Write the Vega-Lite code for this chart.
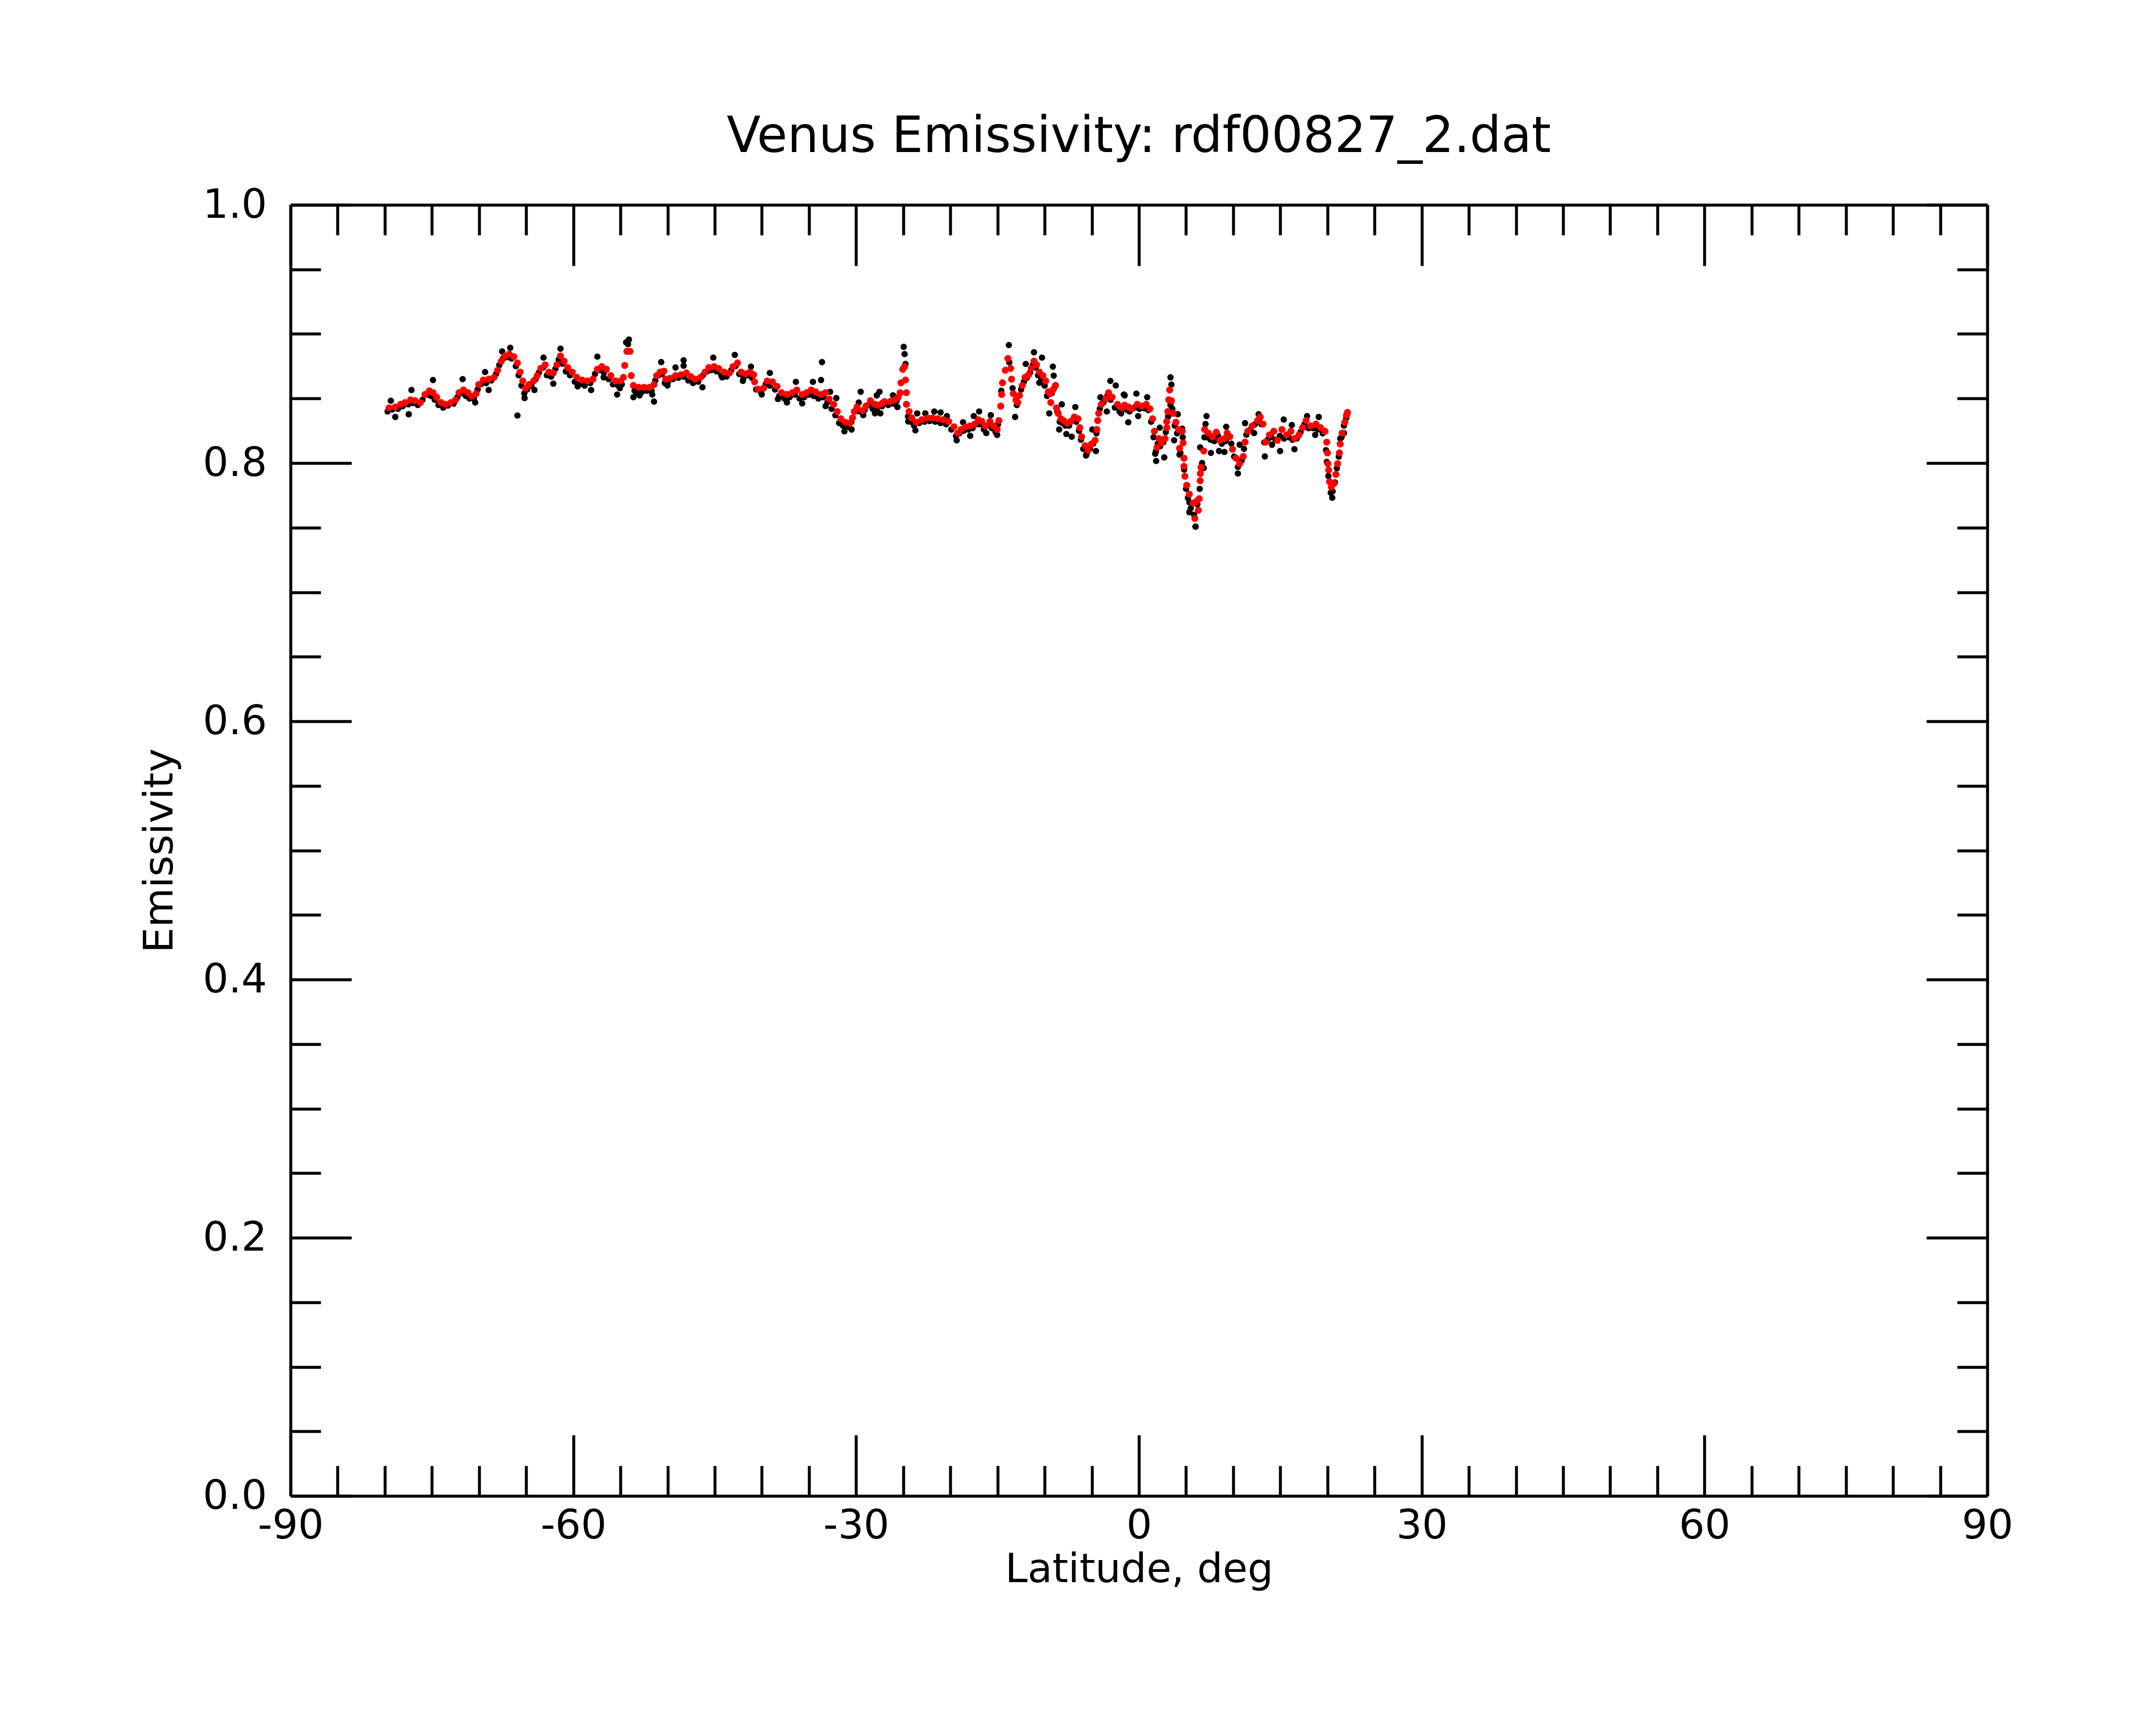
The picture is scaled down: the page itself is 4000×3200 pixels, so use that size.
{
  "$schema": "https://vega.github.io/schema/vega-lite/v6.json",
  "description": "Venus emissivity against latitude, raw samples and smoothed trace",
  "width": 3148,
  "height": 2395,
  "autosize": {"type": "none"},
  "padding": {"left": 539, "top": 380, "right": 313, "bottom": 425},
  "background": "white",
  "title": {
    "text": "Venus Emissivity: rdf00827_2.dat",
    "font": "DejaVu Sans",
    "fontSize": 92,
    "fontWeight": "normal",
    "color": "black",
    "anchor": "middle",
    "offset": 42
  },
  "datasets": {
    "raw": [
      {"lat":-79.7,"emis":0.84},{"lat":-79.2,"emis":0.8415},{"lat":-78.6,"emis":0.842},{"lat":-78.1,"emis":0.844},
      {"lat":-77.5,"emis":0.8455},{"lat":-77.0,"emis":0.8465},{"lat":-76.5,"emis":0.845},{"lat":-76.0,"emis":0.849},
      {"lat":-75.5,"emis":0.853},{"lat":-75.1,"emis":0.852},{"lat":-74.7,"emis":0.849},{"lat":-74.3,"emis":0.845},
      {"lat":-73.8,"emis":0.843},{"lat":-73.3,"emis":0.8445},{"lat":-72.7,"emis":0.846},{"lat":-72.3,"emis":0.851},
      {"lat":-71.9,"emis":0.854},{"lat":-71.4,"emis":0.852},{"lat":-71.0,"emis":0.85},{"lat":-70.55,"emis":0.85},
      {"lat":-70.15,"emis":0.857},{"lat":-69.8,"emis":0.861},{"lat":-69.25,"emis":0.862},{"lat":-68.7,"emis":0.864},
      {"lat":-68.2,"emis":0.869},{"lat":-67.85,"emis":0.876},{"lat":-67.45,"emis":0.881},{"lat":-67.0,"emis":0.882},
      {"lat":-66.55,"emis":0.881},{"lat":-66.1,"emis":0.875},{"lat":-65.8,"emis":0.868},{"lat":-65.5,"emis":0.86},
      {"lat":-65.2,"emis":0.854},{"lat":-64.9,"emis":0.857},{"lat":-64.45,"emis":0.86},{"lat":-64.0,"emis":0.865},
      {"lat":-63.65,"emis":0.87},{"lat":-63.2,"emis":0.874},{"lat":-62.8,"emis":0.868},{"lat":-62.35,"emis":0.867},
      {"lat":-61.9,"emis":0.873},{"lat":-61.55,"emis":0.88},{"lat":-61.15,"emis":0.877},{"lat":-60.8,"emis":0.871},
      {"lat":-60.35,"emis":0.868},{"lat":-59.85,"emis":0.863},{"lat":-59.35,"emis":0.861},{"lat":-58.8,"emis":0.86},
      {"lat":-58.2,"emis":0.862},{"lat":-57.7,"emis":0.869},{"lat":-57.2,"emis":0.872},{"lat":-56.75,"emis":0.87},
      {"lat":-56.25,"emis":0.865},{"lat":-55.8,"emis":0.861},{"lat":-55.25,"emis":0.86},{"lat":-54.85,"emis":0.861},
      {"lat":-54.4,"emis":0.8935},{"lat":-54.1,"emis":0.8956},{"lat":-54.2,"emis":0.892},
      {"lat":-53.5,"emis":0.856},{"lat":-53.3,"emis":0.854},{"lat":-52.75,"emis":0.855},{"lat":-52.2,"emis":0.856},
      {"lat":-51.7,"emis":0.856},{"lat":-51.3,"emis":0.864},{"lat":-50.95,"emis":0.868},{"lat":-50.6,"emis":0.869},
      {"lat":-50.3,"emis":0.862},{"lat":-49.95,"emis":0.863},{"lat":-49.45,"emis":0.865},{"lat":-48.85,"emis":0.866},
      {"lat":-48.3,"emis":0.867},{"lat":-47.8,"emis":0.864},{"lat":-47.3,"emis":0.862},{"lat":-46.75,"emis":0.863},
      {"lat":-46.25,"emis":0.868},{"lat":-45.8,"emis":0.871},{"lat":-45.35,"emis":0.872},{"lat":-44.8,"emis":0.871},
      {"lat":-44.3,"emis":0.868},{"lat":-43.75,"emis":0.867},{"lat":-43.25,"emis":0.872},{"lat":-42.8,"emis":0.875},
      {"lat":-42.4,"emis":0.869},{"lat":-41.95,"emis":0.866},{"lat":-41.5,"emis":0.868},{"lat":-41.05,"emis":0.866},
      {"lat":-40.6,"emis":0.857},{"lat":-40.1,"emis":0.855},{"lat":-39.6,"emis":0.861},{"lat":-39.15,"emis":0.86},
      {"lat":-38.6,"emis":0.857},{"lat":-38.15,"emis":0.852},{"lat":-37.6,"emis":0.85},{"lat":-37.05,"emis":0.851},
      {"lat":-36.5,"emis":0.853},{"lat":-36.0,"emis":0.85},{"lat":-35.5,"emis":0.851},{"lat":-35.0,"emis":0.853},
      {"lat":-34.5,"emis":0.852},{"lat":-34.0,"emis":0.85},{"lat":-33.5,"emis":0.851},{"lat":-33.05,"emis":0.847},
      {"lat":-32.6,"emis":0.842},{"lat":-32.2,"emis":0.837},{"lat":-31.8,"emis":0.831},{"lat":-31.4,"emis":0.829},
      {"lat":-30.9,"emis":0.828},{"lat":-30.5,"emis":0.832},{"lat":-30.05,"emis":0.84},{"lat":-29.6,"emis":0.84},
      {"lat":-29.1,"emis":0.841},{"lat":-28.7,"emis":0.845},{"lat":-28.25,"emis":0.842},{"lat":-27.8,"emis":0.842},
      {"lat":-27.25,"emis":0.844},{"lat":-26.6,"emis":0.845},{"lat":-26.1,"emis":0.846},{"lat":-25.7,"emis":0.848},
      {"lat":-24.95,"emis":0.89},{"lat":-24.86,"emis":0.8844},{"lat":-24.76,"emis":0.8768},
      {"lat":-24.5,"emis":0.836},{"lat":-24.2,"emis":0.832},{"lat":-23.85,"emis":0.829},{"lat":-23.3,"emis":0.831},
      {"lat":-22.75,"emis":0.832},{"lat":-22.2,"emis":0.8325},{"lat":-21.6,"emis":0.832},{"lat":-21.05,"emis":0.831},
      {"lat":-20.45,"emis":0.83},{"lat":-19.9,"emis":0.826},{"lat":-19.4,"emis":0.821},{"lat":-19.05,"emis":0.823},
      {"lat":-18.6,"emis":0.825},{"lat":-18.1,"emis":0.826},{"lat":-17.65,"emis":0.827},{"lat":-17.2,"emis":0.83},
      {"lat":-16.85,"emis":0.83},{"lat":-16.45,"emis":0.826},{"lat":-16.05,"emis":0.829},{"lat":-15.6,"emis":0.827},
      {"lat":-15.2,"emis":0.824},{"lat":-14.95,"emis":0.83},{"lat":-14.6,"emis":0.856},{"lat":-13.8,"emis":0.8914},
      {"lat":-13.75,"emis":0.878},{"lat":-13.4,"emis":0.858},{"lat":-12.95,"emis":0.845},{"lat":-12.5,"emis":0.857},
      {"lat":-12.2,"emis":0.863},{"lat":-11.9,"emis":0.866},{"lat":-11.55,"emis":0.87},{"lat":-11.25,"emis":0.876},
      {"lat":-10.95,"emis":0.874},{"lat":-10.7,"emis":0.868},{"lat":-10.35,"emis":0.865},{"lat":-10.0,"emis":0.86},
      {"lat":-9.75,"emis":0.852},{"lat":-9.25,"emis":0.854},{"lat":-9.0,"emis":0.858},{"lat":-8.65,"emis":0.84},
      {"lat":-8.4,"emis":0.832},{"lat":-8.1,"emis":0.831},{"lat":-7.8,"emis":0.829},{"lat":-7.4,"emis":0.829},
      {"lat":-7.05,"emis":0.833},{"lat":-6.65,"emis":0.832},{"lat":-6.35,"emis":0.825},{"lat":-6.15,"emis":0.818},
      {"lat":-5.9,"emis":0.811},{"lat":-5.55,"emis":0.807},{"lat":-5.2,"emis":0.811},{"lat":-4.85,"emis":0.815},
      {"lat":-4.5,"emis":0.823},{"lat":-4.15,"emis":0.842},{"lat":-3.75,"emis":0.847},{"lat":-3.35,"emis":0.852},
      {"lat":-3.0,"emis":0.849},{"lat":-2.55,"emis":0.843},{"lat":-2.05,"emis":0.84},{"lat":-1.65,"emis":0.842},
      {"lat":-1.2,"emis":0.841},{"lat":-1.0,"emis":0.84},{"lat":-0.45,"emis":0.843},{"lat":0.05,"emis":0.842},
      {"lat":0.55,"emis":0.8425},{"lat":1.0,"emis":0.841},{"lat":1.3,"emis":0.832},{"lat":1.55,"emis":0.82},
      {"lat":1.8,"emis":0.809},{"lat":2.0,"emis":0.815},{"lat":2.25,"emis":0.813},{"lat":2.6,"emis":0.816},
      {"lat":2.85,"emis":0.824},{"lat":3.1,"emis":0.836},{"lat":3.35,"emis":0.845},{"lat":3.55,"emis":0.842},
      {"lat":3.8,"emis":0.829},{"lat":4.05,"emis":0.823},{"lat":4.4,"emis":0.808},{"lat":4.65,"emis":0.82},
      {"lat":4.8,"emis":0.795},{"lat":5.0,"emis":0.78},{"lat":5.2,"emis":0.773},{"lat":5.5,"emis":0.765},
      {"lat":5.85,"emis":0.76},{"lat":6.0,"emis":0.7508},{"lat":6.2,"emis":0.768},{"lat":6.45,"emis":0.78},
      {"lat":6.7,"emis":0.8},{"lat":6.95,"emis":0.82},{"lat":7.2,"emis":0.82},{"lat":7.6,"emis":0.818},
      {"lat":8.0,"emis":0.817},{"lat":8.4,"emis":0.821},{"lat":8.8,"emis":0.815},{"lat":9.2,"emis":0.817},
      {"lat":9.5,"emis":0.82},{"lat":9.8,"emis":0.815},{"lat":10.1,"emis":0.805},{"lat":10.5,"emis":0.797},
      {"lat":10.9,"emis":0.802},{"lat":11.15,"emis":0.811},{"lat":11.4,"emis":0.822},{"lat":11.8,"emis":0.826},
      {"lat":12.3,"emis":0.83},{"lat":12.75,"emis":0.834},{"lat":13.0,"emis":0.83},{"lat":13.3,"emis":0.816},
      {"lat":13.65,"emis":0.818},{"lat":14.05,"emis":0.82},{"lat":14.5,"emis":0.818},{"lat":14.95,"emis":0.821},
      {"lat":15.4,"emis":0.819},{"lat":15.9,"emis":0.82},{"lat":16.3,"emis":0.818},{"lat":16.75,"emis":0.819},
      {"lat":17.15,"emis":0.824},{"lat":17.55,"emis":0.83},{"lat":18.0,"emis":0.827},{"lat":18.5,"emis":0.827},
      {"lat":19.0,"emis":0.826},{"lat":19.5,"emis":0.823},{"lat":19.85,"emis":0.81},{"lat":20.1,"emis":0.79},
      {"lat":20.35,"emis":0.777},{"lat":20.55,"emis":0.778},{"lat":20.8,"emis":0.785},{"lat":21.0,"emis":0.796},
      {"lat":21.2,"emis":0.805},{"lat":21.5,"emis":0.82},{"lat":21.75,"emis":0.829},{"lat":22.0,"emis":0.835},
      {"lat":-65.93,"emis":0.8368},{"lat":-74.89,"emis":0.8643},{"lat":-71.74,"emis":0.865},{"lat":-77.17,"emis":0.8566},
      {"lat":-77.46,"emis":0.8378},{"lat":-78.89,"emis":0.8357},{"lat":-79.36,"emis":0.8483},{"lat":-70.41,"emis":0.8469},
      {"lat":-68.98,"emis":0.8566},{"lat":-69.36,"emis":0.8705},{"lat":-65.17,"emis":0.8503},{"lat":-64.12,"emis":0.8566},
      {"lat":-63.16,"emis":0.8817},{"lat":-62.12,"emis":0.8615},{"lat":-61.36,"emis":0.8886},{"lat":-58.11,"emis":0.8566},
      {"lat":-57.45,"emis":0.8824},{"lat":-55.35,"emis":0.8531},{"lat":-55.06,"emis":0.858},{"lat":-56.78,"emis":0.8664},
      {"lat":-59.54,"emis":0.8594},{"lat":-66.69,"emis":0.8893},{"lat":-67.55,"emis":0.8865},
      {"lat":-53.63,"emis":0.851},{"lat":-52.97,"emis":0.8524},{"lat":-51.44,"emis":0.8476},{"lat":-51.63,"emis":0.8531},
      {"lat":-50.68,"emis":0.8782},{"lat":-50.01,"emis":0.8601},{"lat":-49.16,"emis":0.874},{"lat":-48.3,"emis":0.8796},
      {"lat":-48.3,"emis":0.8754},{"lat":-46.3,"emis":0.8587},{"lat":-45.15,"emis":0.8817},{"lat":-44.2,"emis":0.8664},
      {"lat":-42.87,"emis":0.8838},{"lat":-42.01,"emis":0.8636},{"lat":-41.15,"emis":0.8747},{"lat":-40.01,"emis":0.8531},
      {"lat":-39.15,"emis":0.8698},{"lat":-38.29,"emis":0.8496},{"lat":-37.34,"emis":0.8469},{"lat":-36.39,"emis":0.8629},
      {"lat":-35.72,"emis":0.8462},{"lat":-34.58,"emis":0.8629},{"lat":-33.62,"emis":0.8782},{"lat":-33.72,"emis":0.8643},
      {"lat":-33.24,"emis":0.8441},{"lat":-32.76,"emis":0.8552},{"lat":-32.1,"emis":0.8503},{"lat":-31.24,"emis":0.8246},
      {"lat":-30.48,"emis":0.826},{"lat":-29.52,"emis":0.8552},{"lat":-29.72,"emis":0.8469},{"lat":-29.24,"emis":0.8371},
      {"lat":-28.0,"emis":0.8385},{"lat":-27.81,"emis":0.8524},{"lat":-27.52,"emis":0.8552},{"lat":-27.43,"emis":0.8385},
      {"lat":-26.09,"emis":0.8524},{"lat":-25.62,"emis":0.8434},{"lat":-24.47,"emis":0.8322},{"lat":-23.71,"emis":0.8253},
      {"lat":-23.52,"emis":0.8385},{"lat":-22.66,"emis":0.8385},{"lat":-21.71,"emis":0.8399},{"lat":-21.04,"emis":0.8392},
      {"lat":-20.37,"emis":0.8364},{"lat":-19.33,"emis":0.8176},{"lat":-18.66,"emis":0.8316},{"lat":-17.9,"emis":0.8211},
      {"lat":-17.52,"emis":0.8364},{"lat":-16.95,"emis":0.8399},{"lat":-16.19,"emis":0.8232},{"lat":-15.71,"emis":0.8371},
      {"lat":-15.04,"emis":0.8218},{"lat":-13.13,"emis":0.8357},{"lat":-12.0,"emis":0.8768},{"lat":-11.13,"emis":0.8858},
      {"lat":-10.28,"emis":0.8817},{"lat":-9.13,"emis":0.8747},{"lat":-9.04,"emis":0.8677},{"lat":-10.56,"emis":0.8622},
      {"lat":-9.51,"emis":0.8385},{"lat":-8.18,"emis":0.8455},{"lat":-8.46,"emis":0.826},{"lat":-7.7,"emis":0.8225},
      {"lat":-7.13,"emis":0.8204},{"lat":-6.75,"emis":0.8434},{"lat":-5.61,"emis":0.8058},{"lat":-4.94,"emis":0.826},
      {"lat":-4.56,"emis":0.8093},{"lat":-4.08,"emis":0.851},{"lat":-3.03,"emis":0.8636},{"lat":-2.46,"emis":0.8601},
      {"lat":-3.41,"emis":0.8399},{"lat":-1.6,"emis":0.8531},{"lat":-1.89,"emis":0.8385},
      {"lat":-1.51,"emis":0.8524},{"lat":-1.13,"emis":0.8316},{"lat":-0.27,"emis":0.8538},{"lat":0.88,"emis":0.851},
      {"lat":-0.08,"emis":0.8364},{"lat":1.73,"emis":0.8072},{"lat":1.83,"emis":0.8016},{"lat":2.69,"emis":0.8044},
      {"lat":2.21,"emis":0.8274},{"lat":3.35,"emis":0.8664},{"lat":3.45,"emis":0.8608},{"lat":4.12,"emis":0.8378},
      {"lat":3.74,"emis":0.8176},{"lat":4.31,"emis":0.8065},{"lat":4.59,"emis":0.8267},{"lat":5.35,"emis":0.762},
      {"lat":5.35,"emis":0.7696},{"lat":6.02,"emis":0.7508},{"lat":6.5,"emis":0.8121},{"lat":6.88,"emis":0.7961},
      {"lat":7.17,"emis":0.8364},{"lat":7.07,"emis":0.8302},{"lat":7.64,"emis":0.8079},{"lat":8.5,"emis":0.8093},
      {"lat":9.26,"emis":0.8281},{"lat":9.07,"emis":0.8086},{"lat":10.5,"emis":0.7919},{"lat":10.69,"emis":0.8142},
      {"lat":11.26,"emis":0.8309},{"lat":12.22,"emis":0.8232},{"lat":12.7,"emis":0.8378},{"lat":13.36,"emis":0.8051},
      {"lat":14.12,"emis":0.8142},{"lat":14.98,"emis":0.8093},{"lat":15.36,"emis":0.8337},{"lat":16.22,"emis":0.8295},
      {"lat":16.5,"emis":0.8107},{"lat":17.84,"emis":0.8364},{"lat":18.7,"emis":0.8218},{"lat":19.08,"emis":0.8357},
      {"lat":20.51,"emis":0.7731},{"lat":19.93,"emis":0.8009},{"lat":21.36,"emis":0.819},{"lat":21.75,"emis":0.8232}
    ],
    "smooth": [
      {"lat":-79.55,"emis":0.8427},{"lat":-78.89,"emis":0.8434},{"lat":-78.32,"emis":0.8455},{"lat":-77.84,"emis":0.8469},
      {"lat":-77.27,"emis":0.8489},{"lat":-76.79,"emis":0.8483},{"lat":-76.22,"emis":0.8469},{"lat":-75.74,"emis":0.8531},
      {"lat":-75.27,"emis":0.8559},{"lat":-74.89,"emis":0.8545},{"lat":-74.5,"emis":0.851},{"lat":-74.03,"emis":0.8469},
      {"lat":-73.55,"emis":0.8455},{"lat":-72.98,"emis":0.8469},{"lat":-72.5,"emis":0.8489},{"lat":-72.12,"emis":0.8545},
      {"lat":-71.65,"emis":0.8566},{"lat":-71.17,"emis":0.8545},{"lat":-70.79,"emis":0.8517},{"lat":-70.31,"emis":0.8538},
      {"lat":-70.03,"emis":0.8608},{"lat":-69.55,"emis":0.8643},{"lat":-68.98,"emis":0.865},{"lat":-68.41,"emis":0.8664},
      {"lat":-68.03,"emis":0.8719},{"lat":-67.64,"emis":0.8789},{"lat":-67.26,"emis":0.883},{"lat":-66.79,"emis":0.8844},
      {"lat":-66.31,"emis":0.8824},{"lat":-65.93,"emis":0.8775},{"lat":-65.64,"emis":0.8705},{"lat":-65.36,"emis":0.8636},
      {"lat":-65.07,"emis":0.858},{"lat":-64.69,"emis":0.8608},{"lat":-64.21,"emis":0.8636},{"lat":-63.83,"emis":0.8677},
      {"lat":-63.45,"emis":0.8733},{"lat":-62.98,"emis":0.8761},{"lat":-62.59,"emis":0.8705},{"lat":-62.12,"emis":0.8698},
      {"lat":-61.74,"emis":0.8761},{"lat":-61.36,"emis":0.883},{"lat":-60.97,"emis":0.8789},{"lat":-60.59,"emis":0.874},
      {"lat":-60.11,"emis":0.8705},{"lat":-59.64,"emis":0.8664},{"lat":-59.07,"emis":0.8643},{"lat":-58.49,"emis":0.8636},
      {"lat":-57.92,"emis":0.865},{"lat":-57.45,"emis":0.8726},{"lat":-56.97,"emis":0.8747},{"lat":-56.49,"emis":0.8726},
      {"lat":-56.02,"emis":0.8677},{"lat":-55.54,"emis":0.8636},{"lat":-54.97,"emis":0.8636},{"lat":-54.68,"emis":0.8664},
      {"lat":-54.55,"emis":0.8756},{"lat":-54.32,"emis":0.8865},{"lat":-53.98,"emis":0.8865},{"lat":-53.85,"emis":0.8677},
      {"lat":-53.63,"emis":0.8601},{"lat":-53.06,"emis":0.8587},{"lat":-52.49,"emis":0.8587},{"lat":-51.92,"emis":0.8587},
      {"lat":-51.44,"emis":0.8608},{"lat":-51.16,"emis":0.8677},{"lat":-50.78,"emis":0.8705},{"lat":-50.39,"emis":0.8712},
      {"lat":-50.2,"emis":0.865},{"lat":-49.73,"emis":0.8657},{"lat":-49.16,"emis":0.8677},{"lat":-48.58,"emis":0.8684},
      {"lat":-48.01,"emis":0.8698},{"lat":-47.54,"emis":0.867},{"lat":-47.06,"emis":0.865},{"lat":-46.49,"emis":0.8664},
      {"lat":-46.01,"emis":0.8705},{"lat":-45.63,"emis":0.874},{"lat":-45.06,"emis":0.8747},{"lat":-44.58,"emis":0.8733},
      {"lat":-44.01,"emis":0.8705},{"lat":-43.44,"emis":0.8698},{"lat":-43.06,"emis":0.8747},{"lat":-42.58,"emis":0.8775},
      {"lat":-42.2,"emis":0.8705},{"lat":-41.72,"emis":0.8691},{"lat":-41.25,"emis":0.8705},{"lat":-40.87,"emis":0.8684},
      {"lat":-40.77,"emis":0.8629},{"lat":-40.39,"emis":0.8573},{"lat":-39.82,"emis":0.858},{"lat":-39.43,"emis":0.8636},
      {"lat":-38.87,"emis":0.8629},{"lat":-38.39,"emis":0.8594},{"lat":-37.91,"emis":0.8545},{"lat":-37.34,"emis":0.8531},
      {"lat":-36.77,"emis":0.8545},{"lat":-36.29,"emis":0.8566},{"lat":-35.72,"emis":0.8531},{"lat":-35.24,"emis":0.8545},
      {"lat":-34.77,"emis":0.8566},{"lat":-34.29,"emis":0.8552},{"lat":-33.72,"emis":0.8531},{"lat":-33.24,"emis":0.8545},
      {"lat":-32.86,"emis":0.8496},{"lat":-32.38,"emis":0.8455},{"lat":-32.0,"emis":0.8399},{"lat":-31.62,"emis":0.8343},
      {"lat":-31.14,"emis":0.8316},{"lat":-30.67,"emis":0.8309},{"lat":-30.38,"emis":0.835},{"lat":-30.19,"emis":0.8399},
      {"lat":-29.9,"emis":0.8434},{"lat":-29.33,"emis":0.8406},{"lat":-28.95,"emis":0.8441},{"lat":-28.48,"emis":0.8483},
      {"lat":-28.0,"emis":0.8455},{"lat":-27.62,"emis":0.8448},{"lat":-27.24,"emis":0.8462},{"lat":-27.0,"emis":0.8476},
      {"lat":-26.38,"emis":0.8476},{"lat":-25.91,"emis":0.8489},{"lat":-25.53,"emis":0.851},{"lat":-25.33,"emis":0.8545},
      {"lat":-25.24,"emis":0.8622},{"lat":-25.05,"emis":0.8726},{"lat":-24.86,"emis":0.8747},{"lat":-24.76,"emis":0.8643},
      {"lat":-24.66,"emis":0.8545},{"lat":-24.66,"emis":0.8455},{"lat":-24.38,"emis":0.8399},{"lat":-24.09,"emis":0.835},
      {"lat":-23.62,"emis":0.8316},{"lat":-23.04,"emis":0.8336},{"lat":-22.47,"emis":0.835},{"lat":-21.9,"emis":0.835},
      {"lat":-21.33,"emis":0.8343},{"lat":-20.76,"emis":0.8336},{"lat":-20.18,"emis":0.8322},{"lat":-19.61,"emis":0.8281},
      {"lat":-19.23,"emis":0.8232},{"lat":-18.85,"emis":0.826},{"lat":-18.37,"emis":0.8281},{"lat":-17.9,"emis":0.8288},
      {"lat":-17.42,"emis":0.8302},{"lat":-17.04,"emis":0.8336},{"lat":-16.66,"emis":0.8322},{"lat":-16.28,"emis":0.8288},
      {"lat":-15.8,"emis":0.8322},{"lat":-15.42,"emis":0.8288},{"lat":-15.04,"emis":0.826},{"lat":-14.85,"emis":0.8329},
      {"lat":-14.66,"emis":0.8441},{"lat":-14.56,"emis":0.8531},{"lat":-14.47,"emis":0.8622},{"lat":-14.18,"emis":0.8719},
      {"lat":-13.9,"emis":0.881},{"lat":-13.61,"emis":0.8733},{"lat":-13.51,"emis":0.865},{"lat":-13.32,"emis":0.8538},
      {"lat":-13.04,"emis":0.8489},{"lat":-12.85,"emis":0.8469},{"lat":-12.66,"emis":0.8524},{"lat":-12.37,"emis":0.8601},
      {"lat":-12.08,"emis":0.8664},{"lat":-11.7,"emis":0.8684},{"lat":-11.42,"emis":0.8733},{"lat":-11.13,"emis":0.8789},
      {"lat":-10.85,"emis":0.8761},{"lat":-10.56,"emis":0.8705},{"lat":-10.18,"emis":0.8677},{"lat":-9.89,"emis":0.8636},
      {"lat":-9.61,"emis":0.8552},{"lat":-9.42,"emis":0.8538},{"lat":-9.13,"emis":0.8566},{"lat":-8.85,"emis":0.8601},
      {"lat":-9.35,"emis":0.8469},{"lat":-8.75,"emis":0.8427},{"lat":-8.56,"emis":0.8385},{"lat":-8.27,"emis":0.8343},
      {"lat":-7.99,"emis":0.8329},{"lat":-7.61,"emis":0.8309},{"lat":-7.23,"emis":0.8322},{"lat":-6.85,"emis":0.8357},
      {"lat":-6.46,"emis":0.8343},{"lat":-6.27,"emis":0.8274},{"lat":-6.08,"emis":0.8204},{"lat":-5.7,"emis":0.8135},
      {"lat":-5.41,"emis":0.81},{"lat":-5.03,"emis":0.8148},{"lat":-4.65,"emis":0.8176},{"lat":-4.46,"emis":0.826},
      {"lat":-4.37,"emis":0.8329},{"lat":-4.27,"emis":0.8385},{"lat":-3.99,"emis":0.8455},{"lat":-3.51,"emis":0.8497},
      {"lat":-3.22,"emis":0.8545},{"lat":-2.84,"emis":0.851},{"lat":-2.27,"emis":0.8455},{"lat":-1.79,"emis":0.8427},
      {"lat":-1.51,"emis":0.8448},{"lat":-1.1,"emis":0.8434},{"lat":-0.74,"emis":0.842},{"lat":-0.17,"emis":0.8455},
      {"lat":0.3,"emis":0.8441},{"lat":0.78,"emis":0.8455},{"lat":1.16,"emis":0.842},{"lat":1.45,"emis":0.8343},
      {"lat":1.64,"emis":0.8246},{"lat":1.92,"emis":0.8121},{"lat":2.11,"emis":0.819},{"lat":2.4,"emis":0.8156},
      {"lat":2.78,"emis":0.819},{"lat":2.97,"emis":0.8274},{"lat":2.95,"emis":0.8322},{"lat":3.07,"emis":0.8399},
      {"lat":3.16,"emis":0.849},{"lat":3.26,"emis":0.8566},{"lat":3.45,"emis":0.8483},{"lat":3.64,"emis":0.8385},
      {"lat":3.93,"emis":0.8316},{"lat":4.21,"emis":0.826},{"lat":4.59,"emis":0.8246},{"lat":4.31,"emis":0.8114},
      {"lat":4.69,"emis":0.8156},{"lat":4.78,"emis":0.8037},{"lat":4.78,"emis":0.7975},{"lat":4.88,"emis":0.7898},
      {"lat":5.07,"emis":0.7828},{"lat":5.35,"emis":0.7759},{"lat":5.74,"emis":0.7689},{"lat":5.93,"emis":0.7571},
      {"lat":6.12,"emis":0.7703},{"lat":6.31,"emis":0.7634},{"lat":6.4,"emis":0.7724},{"lat":6.5,"emis":0.7863},
      {"lat":6.52,"emis":0.7919},{"lat":6.59,"emis":0.7967},{"lat":6.88,"emis":0.8093},{"lat":6.97,"emis":0.826},
      {"lat":7.36,"emis":0.8232},{"lat":7.83,"emis":0.8204},{"lat":8.21,"emis":0.8239},{"lat":8.59,"emis":0.8176},
      {"lat":9.07,"emis":0.819},{"lat":9.36,"emis":0.8232},{"lat":9.64,"emis":0.8204},{"lat":9.93,"emis":0.8107},
      {"lat":10.31,"emis":0.8037},{"lat":10.69,"emis":0.7995},{"lat":11.07,"emis":0.8051},{"lat":11.26,"emis":0.8162},
      {"lat":11.55,"emis":0.8246},{"lat":12.03,"emis":0.8288},{"lat":12.6,"emis":0.833},{"lat":12.88,"emis":0.8357},
      {"lat":13.17,"emis":0.8302},{"lat":13.46,"emis":0.8162},{"lat":13.84,"emis":0.8218},{"lat":14.31,"emis":0.8246},
      {"lat":14.69,"emis":0.8176},{"lat":15.17,"emis":0.826},{"lat":15.65,"emis":0.8218},{"lat":16.12,"emis":0.8246},
      {"lat":16.5,"emis":0.819},{"lat":16.98,"emis":0.8218},{"lat":17.36,"emis":0.8274},{"lat":17.74,"emis":0.833},
      {"lat":18.22,"emis":0.8288},{"lat":18.79,"emis":0.8302},{"lat":19.27,"emis":0.8274},{"lat":19.74,"emis":0.8246},
      {"lat":19.93,"emis":0.8162},{"lat":20.0,"emis":0.8079},{"lat":20.05,"emis":0.7995},{"lat":20.13,"emis":0.7946},
      {"lat":20.22,"emis":0.7856},{"lat":20.41,"emis":0.7814},{"lat":20.7,"emis":0.7842},{"lat":20.89,"emis":0.7912},
      {"lat":21.08,"emis":0.7995},{"lat":21.27,"emis":0.8079},{"lat":21.36,"emis":0.8148},{"lat":21.56,"emis":0.8232},
      {"lat":21.84,"emis":0.8316},{"lat":22.03,"emis":0.8371},{"lat":22.13,"emis":0.8392}
    ]
  },
  "resolve": {"axis": {"x": "independent", "y": "independent"}},
  "layer": [
    {
      "data": {"name": "raw"},
      "mark": {"type": "circle", "size": 140, "color": "black", "opacity": 1},
      "encoding": {
        "x": {
          "field": "lat",
          "type": "quantitative",
          "scale": {"domain": [-90, 90], "nice": false, "zero": false},
          "axis": {
            "orient": "bottom",
            "title": "Latitude, deg",
            "titlePadding": -50,
            "values": [-90,-85,-80,-75,-70,-65,-60,-55,-50,-45,-40,-35,-30,-25,-20,-15,-10,-5,0,5,10,15,20,25,30,35,40,45,50,55,60,65,70,75,80,85,90],
            "tickSize": {"condition": {"test": "datum.value % 30 === 0", "value": -113}, "value": -56},
            "labelExpr": "datum.value % 30 === 0 ? toString(datum.value) : ''",
            "labelPadding": 132
          }
        },
        "y": {
          "field": "emis",
          "type": "quantitative",
          "scale": {"domain": [0, 1], "nice": false, "zero": false},
          "axis": {
            "orient": "left",
            "title": "Emissivity",
            "titlePadding": 40,
            "values": [0,0.05,0.1,0.15,0.2,0.25,0.3,0.35,0.4,0.45,0.5,0.55,0.6,0.65,0.7,0.75,0.8,0.85,0.9,0.95,1],
            "tickSize": {"condition": {"test": "round(datum.value * 100) % 20 === 0", "value": -113}, "value": -56},
            "labelExpr": "round(datum.value * 100) % 20 === 0 ? format(datum.value, '.1f') : ''",
            "labelPadding": 157
          }
        }
      }
    },
    {
      "data": {"name": "smooth"},
      "mark": {"type": "circle", "size": 170, "color": "#ff0000", "opacity": 1},
      "encoding": {
        "x": {
          "field": "lat",
          "type": "quantitative",
          "axis": {
            "orient": "top",
            "title": null,
            "labels": false,
            "values": [-90,-85,-80,-75,-70,-65,-60,-55,-50,-45,-40,-35,-30,-25,-20,-15,-10,-5,0,5,10,15,20,25,30,35,40,45,50,55,60,65,70,75,80,85,90],
            "tickSize": {"condition": {"test": "datum.value % 30 === 0", "value": -113}, "value": -56}
          }
        },
        "y": {
          "field": "emis",
          "type": "quantitative",
          "axis": {
            "orient": "right",
            "title": null,
            "labels": false,
            "values": [0,0.05,0.1,0.15,0.2,0.25,0.3,0.35,0.4,0.45,0.5,0.55,0.6,0.65,0.7,0.75,0.8,0.85,0.9,0.95,1],
            "tickSize": {"condition": {"test": "round(datum.value * 100) % 20 === 0", "value": -113}, "value": -56}
          }
        }
      }
    }
  ],
  "config": {
    "view": {"stroke": null},
    "font": "DejaVu Sans",
    "axis": {
      "grid": false,
      "domainColor": "black",
      "domainWidth": 5.5,
      "tickColor": "black",
      "tickWidth": 5.5,
      "labelFont": "DejaVu Sans",
      "labelFontSize": 75,
      "labelColor": "black",
      "labelFlush": false,
      "labelOverlap": false,
      "titleFont": "DejaVu Sans",
      "titleFontSize": 75,
      "titleFontWeight": "normal",
      "titleColor": "black"
    },
    "axisLeft": {"labelAlign": "right", "labelBaseline": "middle"}
  }
}
